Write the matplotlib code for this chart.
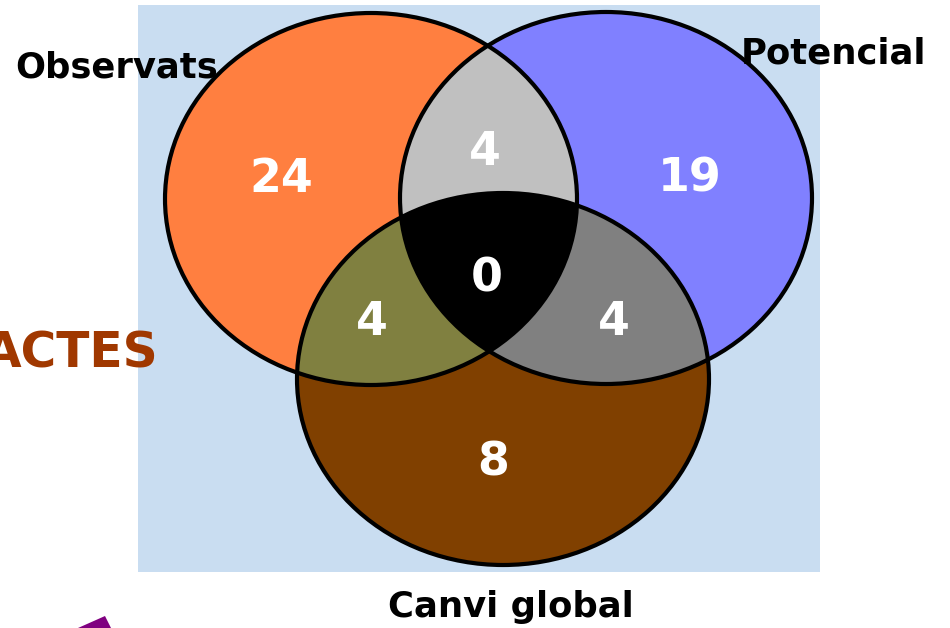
import numpy as np
import matplotlib
matplotlib.use("Agg")
import matplotlib.pyplot as plt
from matplotlib.patches import Ellipse, Polygon, Rectangle

# set names and region counts
set_names = ["Observats", "Potencial", "Canvi global"]
only_counts = [24, 19, 8]          # A only, B only, C only
pair_counts = {"AB": 4, "AC": 4, "BC": 4}
triple_count = 0
side_label = "ACTES"

# ellipse geometry (pixels, y down)
centers = {"A": (371, 199), "B": (606, 198), "C": (503, 379)}
rx, ry = 206, 186

colors = {"A": "#FF7F40", "B": "#8080FF", "C": "#804000",
          "AB": "#C0C0C0", "AC": "#808040", "BC": "#808080", "ABC": "#000000"}


def inside(key, pts):
    cx, cy = centers[key]
    return ((pts[:, 0] - cx) / rx) ** 2 + ((pts[:, 1] - cy) / ry) ** 2 <= 1.0 + 1e-9


def boundary(key, n=1500):
    t = np.linspace(0, 2 * np.pi, n, endpoint=False)
    cx, cy = centers[key]
    return np.column_stack([cx + rx * np.cos(t), cy + ry * np.sin(t)])


def region(keys):
    # intersection of convex ellipses -> convex polygon, sort by angle
    pts = []
    for k in keys:
        b = boundary(k)
        mask = np.ones(len(b), bool)
        for o in keys:
            if o != k:
                mask &= inside(o, b)
        pts.append(b[mask])
    pts = np.vstack(pts)
    c = pts.mean(axis=0)
    ang = np.arctan2(pts[:, 1] - c[1], pts[:, 0] - c[0])
    return pts[np.argsort(ang)]


fig = plt.figure(figsize=(9.5, 6.28), dpi=100)
ax = fig.add_axes([0, 0, 1, 1])
ax.set_xlim(0, 950)
ax.set_ylim(628, 0)
ax.axis("off")

ax.add_patch(Rectangle((138, 5), 682, 567, facecolor="#C9DDF1", edgecolor="none"))

for k in ["A", "B", "C"]:
    ax.add_patch(Ellipse(centers[k], 2 * rx, 2 * ry, facecolor=colors[k], edgecolor="none"))
for k in ["AB", "AC", "BC", "ABC"]:
    ax.add_patch(Polygon(region(list(k)), closed=True, facecolor=colors[k], edgecolor="none"))
ax.add_patch(Polygon(region(["A", "B", "C"]), closed=True, facecolor="none",
                     edgecolor="white", lw=0.6, ls=(0, (4, 3))))
for k in ["A", "B", "C"]:
    ax.add_patch(Ellipse(centers[k], 2 * rx, 2 * ry, facecolor="none", edgecolor="black", lw=3))

num_kw = dict(color="white", fontsize=33, fontweight="bold", ha="center", va="baseline")
ax.text(281, 192, str(only_counts[0]), **num_kw)
ax.text(690, 192, str(only_counts[1]), **num_kw)
ax.text(493, 475, str(only_counts[2]), **num_kw)
ax.text(485, 165, str(pair_counts["AB"]), **num_kw)
ax.text(372, 335, str(pair_counts["AC"]), **num_kw)
ax.text(614, 335, str(pair_counts["BC"]), **num_kw)
ax.text(487, 292, str(triple_count), **num_kw)

lab_kw = dict(color="black", fontsize=25.5, fontweight="bold", va="baseline")
ax.text(15, 78, set_names[0], ha="left", **lab_kw)
ax.text(741, 63, set_names[1], ha="left", **lab_kw)
ax.text(511, 617, set_names[2], ha="center", **lab_kw)
ax.text(158, 368, side_label, color="#A03800", fontsize=35, fontweight="bold",
        ha="right", va="baseline")

# purple arrow tip peeking in at bottom left
ax.add_patch(Polygon([(78, 628), (105, 616), (111, 628)], closed=True,
                     facecolor="#800080", edgecolor="none"))

fig.savefig("out.png", dpi=100)
